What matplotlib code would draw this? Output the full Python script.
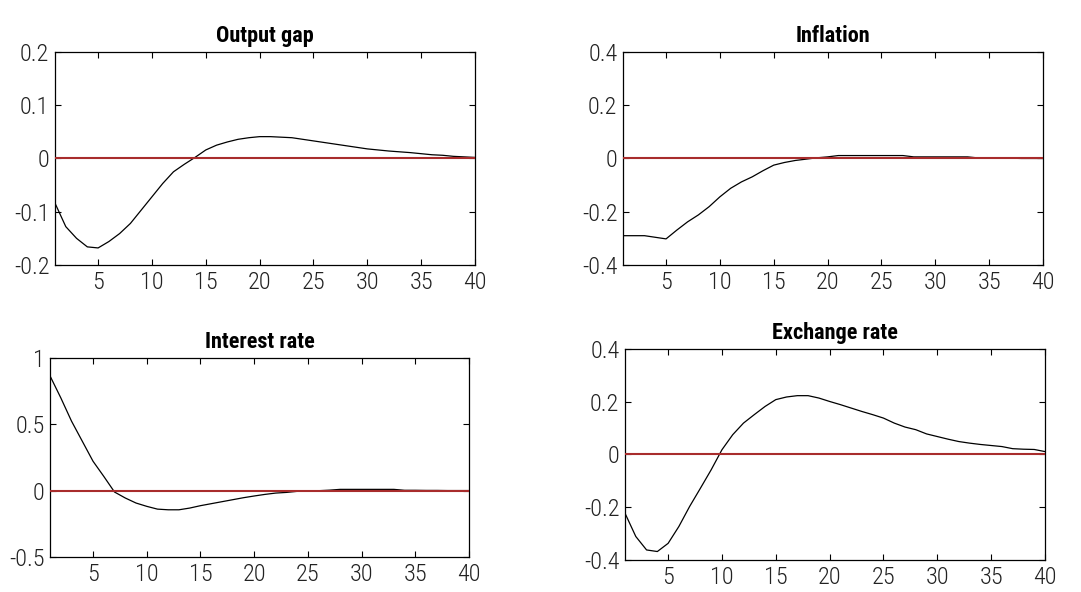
import numpy as np
import matplotlib
matplotlib.use('Agg')
import matplotlib.pyplot as plt
from matplotlib import font_manager

names = {f.name for f in font_manager.fontManager.ttflist}
fams = [n for n in ['Liberation Sans Narrow', 'Roboto Condensed', 'Liberation Sans', 'DejaVu Sans'] if n in names]
plt.rcParams['font.family'] = fams

t = np.arange(1, 41)

output_gap = [-0.084, -0.128, -0.150, -0.166, -0.168, -0.156, -0.141, -0.122, -0.097, -0.072,
              -0.047, -0.025, -0.011, 0.002, 0.016, 0.025, 0.031, 0.036, 0.039, 0.041,
              0.041, 0.040, 0.039, 0.036, 0.033, 0.030, 0.027, 0.024, 0.021, 0.018,
              0.016, 0.014, 0.0125, 0.011, 0.009, 0.007, 0.006, 0.004, 0.003, 0.002]

inflation = [-0.290, -0.290, -0.290, -0.296, -0.302, -0.269, -0.238, -0.212, -0.181, -0.144,
             -0.112, -0.088, -0.069, -0.046, -0.025, -0.015, -0.0075, -0.0025, 0.0025, 0.006,
             0.011, 0.011, 0.011, 0.011, 0.011, 0.011, 0.011, 0.006, 0.006, 0.006,
             0.006, 0.006, 0.006, 0.002, 0.001, 0.001, 0.001, 0.0, 0.0, 0.0]

interest = [0.865, 0.700, 0.524, 0.373, 0.222, 0.108, -0.010, -0.055, -0.093, -0.118,
            -0.139, -0.144, -0.144, -0.131, -0.113, -0.098, -0.083, -0.068, -0.053, -0.040,
            -0.028, -0.018, -0.013, -0.005, -0.003, 0.0, 0.004, 0.010, 0.010, 0.010,
            0.010, 0.010, 0.010, 0.003, 0.003, 0.002, 0.002, 0.001, 0.001, 0.001]

exchange = [-0.223, -0.311, -0.362, -0.368, -0.337, -0.273, -0.197, -0.128, -0.058, 0.018,
            0.075, 0.119, 0.151, 0.182, 0.208, 0.218, 0.223, 0.223, 0.214, 0.201,
            0.189, 0.176, 0.163, 0.151, 0.138, 0.119, 0.104, 0.094, 0.078, 0.068,
            0.058, 0.049, 0.043, 0.038, 0.034, 0.030, 0.022, 0.020, 0.019, 0.011]

panels = [
    ('Output gap', output_gap, [-0.2, -0.1, 0, 0.1, 0.2], ['-0.2', '-0.1', '0', '0.1', '0.2'],
     [0.0509, 0.5524, 0.3885, 0.3598]),
    ('Inflation', inflation, [-0.4, -0.2, 0, 0.2, 0.4], ['-0.4', '-0.2', '0', '0.2', '0.4'],
     [0.5763, 0.5524, 0.3885, 0.3598]),
    ('Interest rate', interest, [-0.5, 0, 0.5, 1], ['-0.5', '0', '0.5', '1'],
     [0.0463, 0.0591, 0.3876, 0.3361]),
    ('Exchange rate', exchange, [-0.4, -0.2, 0, 0.2, 0.4], ['-0.4', '-0.2', '0', '0.2', '0.4'],
     [0.5782, 0.0541, 0.3885, 0.3564]),
]

fig = plt.figure(figsize=(10.81, 5.92), dpi=100)

for title, vals, yt, ytl, pos in panels:
    ax = fig.add_axes(pos)
    ax.plot(t, vals, color='black', lw=0.9, zorder=2)
    ax.plot(t, np.zeros(len(t)), color='#a82c2c', lw=1.5, zorder=3)
    ax.set_xlim(1, 40)
    ax.set_ylim(yt[0], yt[-1])
    ax.set_xticks([5, 10, 15, 20, 25, 30, 35, 40])
    ax.set_yticks(yt)
    ax.set_yticklabels(ytl)
    ax.tick_params(direction='in', top=True, right=True, length=4, width=0.8,
                   labelsize=17.5, pad=4, labelcolor='#222222')
    for lab in ax.get_xticklabels() + ax.get_yticklabels():
        lab.set_fontweight('light')
    for s in ax.spines.values():
        s.set_linewidth(0.9)
    ax.set_title(title, fontsize=16, fontweight='bold', pad=7)

fig.savefig('out.png', dpi=100)
